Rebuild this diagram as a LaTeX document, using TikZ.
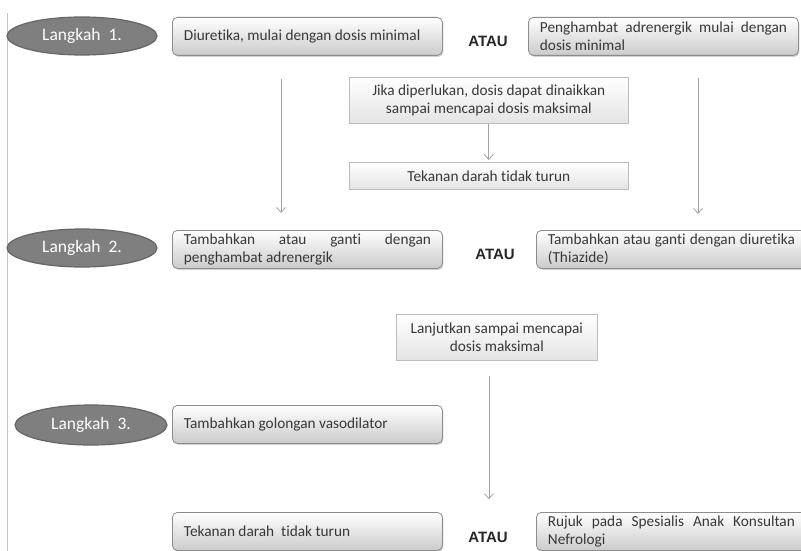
\documentclass[tikz,border=0pt]{standalone}
\usepackage{fontspec}
\setmainfont{Carlito}[Ligatures=NoCommon]
\newfontfamily\ataufont{Liberation Sans}
\usetikzlibrary{shapes.geometric,shadows,arrows.meta}

\definecolor{stepfill}{HTML}{7F7F7F}
\definecolor{stepline}{HTML}{666666}
\definecolor{boxline}{HTML}{8C8C8C}
\definecolor{boxbottom}{HTML}{CBCBCB}
\definecolor{noteline}{HTML}{BDBDBD}
\definecolor{notebottom}{HTML}{E4E4E4}
\definecolor{flow}{HTML}{A3A3A3}
\definecolor{pageedge}{HTML}{C4C4C4}
\definecolor{ink}{HTML}{383838}

\begin{document}
\begin{tikzpicture}[x=1pt,y=-1pt,
  langkah/.style={ellipse, fill=stepfill, draw=stepline, line width=1.2pt,
    text=white, minimum width=150pt, minimum height=38pt,
    font=\fontsize{17.5}{19}\selectfont},
  txt/.style={font=\fontsize{15.3}{18}\selectfont, text=ink},
  opsi/.style={txt, anchor=north west, rectangle, rounded corners=5pt,
    draw=boxline, line width=0.8pt, top color=white, bottom color=boxbottom,
    drop shadow={opacity=0.35, shadow xshift=1pt, shadow yshift=-1.5pt},
    inner xsep=11.5pt, inner ysep=2pt, text width=247pt,
    minimum height=38pt, align=justify},
  catatan/.style={txt, anchor=north west, rectangle, draw=noteline,
    line width=0.6pt, top color=white, bottom color=notebottom,
    drop shadow={opacity=0.25, shadow xshift=1pt, shadow yshift=-1pt},
    inner sep=2pt, align=center},
  atau/.style={font=\ataufont\bfseries\fontsize{15}{18}\selectfont, text=black!85},
  arr/.style={draw=flow, line width=0.8pt, -{Straight Barb[length=5pt,width=9pt]}}
]
\clip (0,0) rectangle (801,551);
\fill[white] (0,0) rectangle (801,551);
\draw[pageedge, line width=0.8pt] (7,13) -- (7,551);

% Step 1
\node[langkah] (s1) at (82,36) {Langkah\ \ 1.};
\node[opsi] (d1) at (172,17) {Diuretika, mulai dengan dosis minimal};
\node[atau] (a1) at (488,41) {ATAU};
\node[opsi] (p1) at (528,17) {Penghambat adrenergik mulai dengan\linebreak dosis minimal};
\node[catatan, minimum width=279pt, minimum height=46pt] (j1) at (349,77)
  {Jika diperlukan, dosis dapat dinaikkan\\sampai mencapai dosis maksimal};
\node[catatan, minimum width=279pt, minimum height=27pt] (k1) at (349,162)
  {Tekanan darah tidak turun};

% Step 2
\node[langkah] (s2) at (82,248) {Langkah\ \ 2.};
\node[opsi] (t2) at (172,230) {Tambahkan atau ganti dengan\linebreak penghambat adrenergik};
\node[atau] (a2) at (495,254) {ATAU};
\node[opsi] (u2) at (536,230) {Tambahkan atau ganti dengan diuretika\linebreak (Thiazide)};
\node[catatan, minimum width=201pt, minimum height=46pt] (l2) at (396,314)
  {Lanjutkan sampai mencapai\\dosis maksimal};

% Step 3
\node[langkah, minimum width=152pt, minimum height=40pt] (s3) at (91,425) {Langkah\ \ 3.};
\node[opsi] (v3) at (172,405) {Tambahkan golongan vasodilator};
\node[opsi] (k3) at (172,512) {Tekanan darah\ \ tidak turun};
\node[atau] (a3) at (488,537) {ATAU};
\node[opsi] (r3) at (536,512) {Rujuk pada Spesialis Anak Konsultan\linebreak Nefrologi};

% Connectors
\coordinate (lx) at (281,0);
\coordinate (rx) at (698,0);
\coordinate (mx) at (489,0);
\draw[arr, shorten <=23pt, shorten >=17pt] (d1.south -| lx) -- (t2.north -| lx);
\draw[arr, shorten <=22pt, shorten >=16pt] (p1.south -| rx) -- (u2.north -| rx);
\draw[arr, shorten >=2pt] (j1) -- (k1);
\draw[arr, shorten <=15pt, shorten >=29pt] (l2.south -| mx) -- (a3.north -| mx);
\end{tikzpicture}
\end{document}
